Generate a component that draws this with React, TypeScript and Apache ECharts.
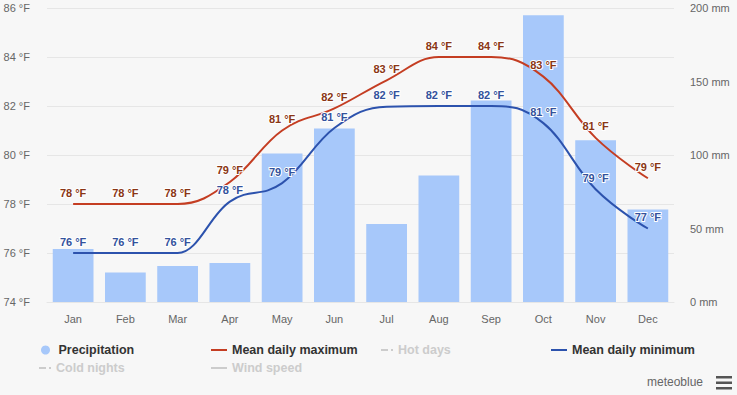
import React, { useEffect, useRef } from "react";
import * as echarts from "echarts";

const months = ["Jan", "Feb", "Mar", "Apr", "May", "Jun", "Jul", "Aug", "Sep", "Oct", "Nov", "Dec"];
const precipitation = [36, 20, 24.5, 26.5, 101, 118, 53, 86, 137, 195, 110, 63];
const meanMax = [78, 78, 78, 78.9, 81.0, 81.9, 83.05, 84, 84, 83.2, 80.7, 79.05];
const meanMin = [76, 76, 76, 78.1, 78.85, 81.1, 81.97, 82, 82, 81.3, 78.6, 77.0];
const tempTicks = { min: 74, max: 86, interval: 2 };
const precTicks = { min: 0, max: 200, interval: 50 };

const FONT = "'Liberation Sans', Arial, sans-serif";

// Highcharts-style spline path through pixel points
function splinePath(pts: number[][]): string {
  const smoothing = 1.5;
  const denom = smoothing + 1;
  let d = `M${pts[0][0]},${pts[0][1]}`;
  let prevRX = pts[0][0];
  let prevRY = pts[0][1];
  for (let i = 1; i < pts.length; i++) {
    const [x, y] = pts[i];
    let lX = x, lY = y, rX = x, rY = y;
    if (i < pts.length - 1) {
      const [px, py] = pts[i - 1];
      const [nx, ny] = pts[i + 1];
      lX = (smoothing * x + px) / denom;
      lY = (smoothing * y + py) / denom;
      rX = (smoothing * x + nx) / denom;
      rY = (smoothing * y + ny) / denom;
      if (rX !== lX) {
        const corr = ((rY - lY) * (rX - x)) / (rX - lX) + y - rY;
        lY += corr;
        rY += corr;
        if (lY > py && lY > y) {
          lY = Math.max(py, y);
          rY = 2 * y - lY;
        } else if (lY < py && lY < y) {
          lY = Math.min(py, y);
          rY = 2 * y - lY;
        }
        if (rY > ny && rY > y) {
          rY = Math.max(ny, y);
          lY = 2 * y - rY;
        } else if (rY < ny && rY < y) {
          rY = Math.min(ny, y);
          lY = 2 * y - rY;
        }
      }
    }
    d += ` C${prevRX},${prevRY} ${lX},${lY} ${x},${y}`;
    prevRX = rX;
    prevRY = rY;
  }
  return d;
}

function curveSeries(name: string, values: number[], color: string) {
  return {
    name,
    type: "custom",
    data: values.map((v, i) => [i, v]),
    z: 3,
    silent: true,
    renderItem: (params: any, api: any) => {
      if (params.dataIndex !== 0) return null;
      const pts = values.map((v, i) => api.coord([i, v]));
      return {
        type: "path",
        shape: { pathData: splinePath(pts) },
        style: { fill: "none", stroke: color, lineWidth: 2 },
      };
    },
  };
}

export default function App() {
  const ref = useRef<HTMLDivElement>(null);
  useEffect(() => {
    document.body.style.margin = "0";
    const chart = echarts.init(ref.current!, null, { renderer: "svg" });
    const legendText = { fontFamily: FONT, fontSize: 12.5, fontWeight: "bold", color: "#333", lineHeight: 14 };
    const mkLegend = (name: string, left: number, top: number, icon: string, w: number, h: number) => ({
      data: [{ name, icon }],
      left,
      top,
      padding: 0,
      itemWidth: w,
      itemHeight: h,
      inactiveColor: "#cccccc",
      textStyle: legendText,
    });
    const dashDot = "path://M0,0H7V2H0Z M10,0H12V2H10Z";
    const label = (color: string) => ({
      show: true,
      position: "top",
      distance: 6,
      formatter: (p: any) => `${Math.round(p.value)} °F`,
      color,
      fontFamily: FONT,
      fontSize: 11,
      fontWeight: "bold",
      textBorderColor: "#ffffff",
      textBorderWidth: 2,
    });
    chart.setOption({
      animation: false,
      backgroundColor: "#f7f7f7",
      textStyle: { fontFamily: FONT },
      grid: { left: 47, right: 63, top: 8, bottom: 93 },
      legend: [
        mkLegend("Precipitation", 41, 343, "circle", 16, 9),
        mkLegend("Mean daily maximum", 211, 343, "rect", 16, 2),
        mkLegend("Hot days", 381, 343, dashDot, 12, 2),
        mkLegend("Mean daily minimum", 551, 343, "rect", 16, 2),
        mkLegend("Cold nights", 39, 361, dashDot, 12, 2),
        mkLegend("Wind speed", 211, 361, "rect", 16, 2),
      ],
      xAxis: {
        type: "category",
        data: months,
        axisLine: { show: true, lineStyle: { color: "#e6e6e6" } },
        axisTick: { show: false },
        axisLabel: { color: "#666", fontSize: 11, margin: 11, fontFamily: FONT },
      },
      yAxis: [
        {
          type: "value",
          ...tempTicks,
          axisLabel: { formatter: "{value} °F", color: "#666", fontSize: 11, margin: 17, fontFamily: FONT },
          splitLine: { lineStyle: { color: "#e6e6e6" } },
          axisLine: { show: false },
          axisTick: { show: false },
        },
        {
          type: "value",
          ...precTicks,
          position: "right",
          axisLabel: { formatter: "{value} mm", color: "#666", fontSize: 11, margin: 16, fontFamily: FONT },
          splitLine: { show: false },
          axisLine: { show: false },
          axisTick: { show: false },
        },
      ],
      series: [
        {
          name: "Precipitation",
          type: "bar",
          yAxisIndex: 1,
          data: precipitation,
          barCategoryGap: "22%",
          itemStyle: { color: "#a7c8fa" },
          z: 1,
        },
        curveSeries("maxCurve", meanMax, "#c43d22"),
        curveSeries("minCurve", meanMin, "#2c52ad"),
        {
          name: "Mean daily maximum",
          type: "line",
          data: meanMax,
          symbol: "circle",
          symbolSize: 0,
          showSymbol: true,
          lineStyle: { opacity: 0 },
          itemStyle: { color: "#c43d22" },
          label: label("#8a3614"),
          z: 4,
        },
        {
          name: "Hot days",
          type: "line",
          data: [],
          itemStyle: { color: "#e0a080" },
        },
        {
          name: "Mean daily minimum",
          type: "line",
          data: meanMin,
          symbol: "circle",
          symbolSize: 0,
          showSymbol: true,
          lineStyle: { opacity: 0 },
          itemStyle: { color: "#2c52ad" },
          label: label("#33529c"),
          z: 4,
        },
        {
          name: "Cold nights",
          type: "line",
          data: [],
          itemStyle: { color: "#80a0e0" },
        },
        {
          name: "Wind speed",
          type: "line",
          data: [],
          itemStyle: { color: "#999" },
        },
      ],
      graphic: [
        {
          type: "text",
          left: 647,
          top: 376,
          style: { text: "meteoblue", fill: "#666", fontSize: 12, fontFamily: FONT },
        },
        { type: "rect", shape: { x: 716, y: 376, width: 16, height: 2.5 }, style: { fill: "#555" } },
        { type: "rect", shape: { x: 716, y: 381.5, width: 16, height: 2.5 }, style: { fill: "#555" } },
        { type: "rect", shape: { x: 716, y: 387, width: 16, height: 2.5 }, style: { fill: "#555" } },
      ],
    });
    chart.dispatchAction({ type: "legendUnSelect", name: "Hot days" });
    chart.dispatchAction({ type: "legendUnSelect", name: "Cold nights" });
    chart.dispatchAction({ type: "legendUnSelect", name: "Wind speed" });
    return () => chart.dispose();
  }, []);
  return <div ref={ref} style={{ position: "absolute", left: 0, top: 0, width: 737, height: 395 }} />;
}
